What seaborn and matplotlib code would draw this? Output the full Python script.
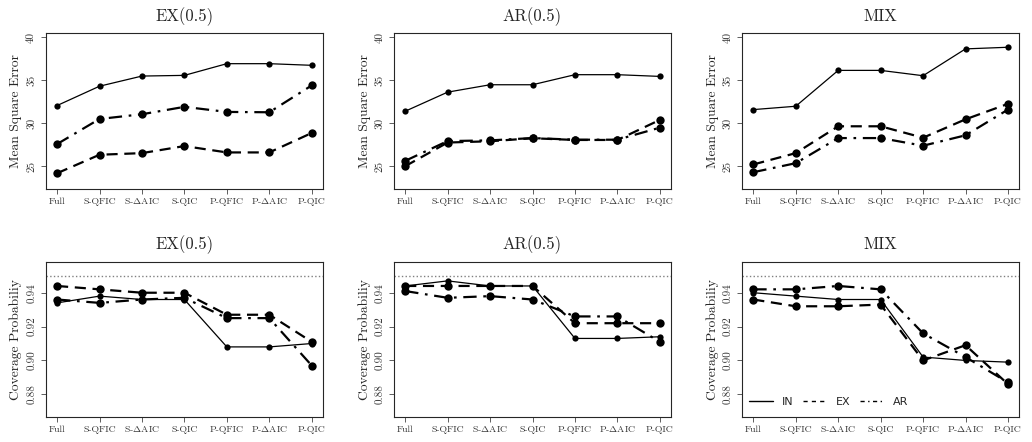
import numpy as np
import pandas as pd
import seaborn as sns
import matplotlib.pyplot as plt
from matplotlib.lines import Line2D

# x axis categories
methods = ['Full', 'S-QFIC', r'S-$\Delta$AIC', 'S-QIC', 'P-QFIC', r'P-$\Delta$AIC', 'P-QIC']
panel_titles = ['EX(0.5)', 'AR(0.5)', 'MIX']

# mean square error, one list per working correlation
mse_in = [[32.05, 34.3, 35.48, 35.56, 36.92, 36.92, 36.73],
          [31.39, 33.61, 34.47, 34.47, 35.64, 35.64, 35.44],
          [31.58, 31.97, 36.14, 36.14, 35.52, 38.64, 38.83]]
mse_ex = [[24.18, 26.33, 26.52, 27.34, 26.6, 26.6, 28.86],
          [25.0, 27.75, 27.9, 28.25, 28.05, 28.05, 30.38],
          [25.2, 26.52, 29.64, 29.64, 28.31, 30.45, 32.25]]
mse_ar = [[27.57, 30.49, 31.04, 31.9, 31.31, 31.27, 34.39],
          [25.62, 27.92, 28.0, 28.27, 28.08, 28.08, 29.48],
          [24.3, 25.35, 28.27, 28.27, 27.38, 28.59, 31.58]]

# coverage probability
cp_in = [[0.934, 0.938, 0.936, 0.936, 0.908, 0.908, 0.910],
         [0.944, 0.947, 0.944, 0.944, 0.913, 0.913, 0.914],
         [0.940, 0.938, 0.936, 0.936, 0.902, 0.900, 0.899]]
cp_ex = [[0.944, 0.942, 0.940, 0.940, 0.927, 0.927, 0.911],
         [0.944, 0.944, 0.944, 0.944, 0.922, 0.922, 0.922],
         [0.936, 0.932, 0.932, 0.933, 0.900, 0.909, 0.886]]
cp_ar = [[0.936, 0.934, 0.936, 0.937, 0.925, 0.925, 0.897],
         [0.941, 0.937, 0.938, 0.936, 0.926, 0.926, 0.911],
         [0.942, 0.942, 0.944, 0.942, 0.916, 0.902, 0.887]]

nominal = 0.95

sns.set_style('ticks')
plt.rcParams['font.family'] = 'serif'
plt.rcParams['font.serif'] = ['cmr10', 'DejaVu Serif']
plt.rcParams['mathtext.fontset'] = 'cm'
plt.rcParams['axes.formatter.use_mathtext'] = True

styles = {'IN': dict(linestyle='-', linewidth=0.9, markersize=4.5),
          'EX': dict(linestyle=(0, (5, 3)), linewidth=1.6, markersize=6),
          'AR': dict(linestyle=(0, (6, 3, 1.2, 3)), linewidth=1.6, markersize=6)}

fig, axes = plt.subplots(2, 3, figsize=(10.32, 4.42), dpi=100)
fig.subplots_adjust(left=0.0446, right=0.9874, top=0.925, bottom=0.0566,
                    wspace=0.258, hspace=0.47)

pos = np.arange(len(methods))
for row, (series, ylab) in enumerate([((mse_in, mse_ex, mse_ar), 'Mean Square Error'),
                                      ((cp_in, cp_ex, cp_ar), 'Coverage Probabiliy')]):
    for col in range(3):
        ax = axes[row, col]
        for name, vals in zip(['IN', 'EX', 'AR'], series):
            df = pd.DataFrame({'pos': pos, 'value': vals[col]})
            st = styles[name]
            sns.lineplot(data=df, x='pos', y='value', ax=ax, color='black',
                         marker='o', markeredgewidth=0, legend=False,
                         linestyle=st['linestyle'], linewidth=st['linewidth'],
                         markersize=st['markersize'])
        ax.set_xlim(-0.26, 6.26)
        ax.set_xticks(pos)
        ax.set_xticklabels(methods, fontsize=7, va='baseline')
        if row == 0:
            ax.set_ylim(22.4, 40.47)
            yt = [25, 30, 35, 40]
            ax.set_yticks(yt)
            ax.set_yticklabels([str(v) for v in yt], rotation=90, va='center', fontsize=8)
        else:
            ax.axhline(nominal, color='gray', linestyle=':', linewidth=1)
            ax.set_ylim(0.8666, 0.9584)
            yt = [0.88, 0.90, 0.92, 0.94]
            ax.set_yticks(yt)
            ax.set_yticklabels(['%.2f' % v for v in yt], rotation=90, va='center', fontsize=8)
        ax.set_xlabel('')
        ax.set_ylabel(ylab, fontsize=9.8, labelpad=3)
        ax.set_title(panel_titles[col], fontsize=12, pad=9)
        ax.tick_params(length=3.6, width=0.6, color='#444444', labelcolor='#333333')
        ax.tick_params(axis='x', pad=7.5)
        for sp in ax.spines.values():
            sp.set_visible(True)
            sp.set_linewidth(0.8)

handles = [Line2D([], [], color='black', lw=1, linestyle='-'),
           Line2D([], [], color='black', lw=1, dashes=(3, 3)),
           Line2D([], [], color='black', lw=1, dashes=(3, 2.5, 1, 2.5))]
axes[1, 2].legend(handles, ['IN', 'EX', 'AR'], loc='lower left', ncol=3, frameon=False,
                  prop={'family': 'DejaVu Sans', 'size': 8}, handlelength=2.2,
                  handletextpad=0.8, columnspacing=0.8, borderaxespad=0.2,
                  bbox_to_anchor=(0.0, 0.02))

fig.savefig('out.png', dpi=100)
